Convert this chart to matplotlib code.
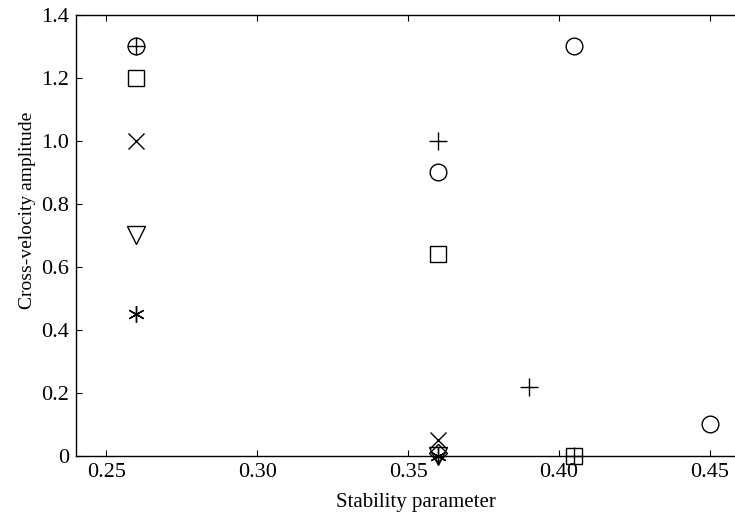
import numpy as np
from matplotlib import pyplot as plt

plt.rcParams['font.family'] = ['Liberation Serif', 'DejaVu Serif']

# Data, one list per marker style.
circle_x = [0.26, 0.36, 0.405, 0.45]
circle_y = [1.3, 0.9, 1.3, 0.1]
plus_x = [0.26, 0.36, 0.39, 0.405]
plus_y = [1.3, 1.0, 0.22, 0.0]
square_x = [0.26, 0.36, 0.405]
square_y = [1.2, 0.64, 0.0]
cross_x = [0.26, 0.36]
cross_y = [1.0, 0.05]
tri_x = [0.26, 0.36]
tri_y = [0.7, 0.0]
star_x = [0.26, 0.36]
star_y = [0.45, 0.0]
diam_x = [0.36]
diam_y = [0.01]

xticks = [0.25, 0.30, 0.35, 0.40, 0.45]
xtick_labels = ['0.25', '0.30', '0.35', '0.40', '0.45']
yticks = [0, 0.2, 0.4, 0.6, 0.8, 1.0, 1.2, 1.4]
ytick_labels = ['0', '0.2', '0.4', '0.6', '0.8', '1.0', '1.2', '1.4']

fig = plt.figure(figsize=(7.35, 5.16), dpi=100)
ax = fig.add_axes([0.1034, 0.1163, 0.8966, 0.8547])

kw = dict(linestyle='none', color='black', markerfacecolor='none',
          markeredgecolor='black', markeredgewidth=1.0, clip_on=False)
ax.plot(circle_x, circle_y, marker='o', markersize=12, **kw)
ax.plot(square_x, square_y, marker='s', markersize=11, **kw)
ax.plot(plus_x, plus_y, marker='+', markersize=13, **kw)
ax.plot(cross_x, cross_y, marker='x', markersize=11, **kw)
ax.plot(tri_x, tri_y, marker='v', markersize=13, **kw)
ax.plot(star_x, star_y, marker=(6, 2, 0), markersize=12, **kw)
ax.plot(diam_x, diam_y, marker='D', markersize=9, **kw)

ax.set_xlim(0.24, 0.4583)
ax.set_ylim(0, 1.4)
ax.set_xticks(xticks)
ax.set_xticklabels(xtick_labels)
ax.set_yticks(yticks)
ax.set_yticklabels(ytick_labels)
ax.tick_params(direction='in', length=4, width=0.8, labelsize=16,
               top=True, right=False, pad=5)
ax.spines['right'].set_visible(False)
for s in ['left', 'bottom', 'top']:
    ax.spines[s].set_linewidth(1.0)

ax.set_xlabel('Stability parameter', fontsize=15)
ax.set_ylabel('Cross-velocity amplitude', fontsize=14)
ax.xaxis.set_label_coords(0.516, -0.084)
ax.yaxis.set_label_coords(-0.06, 0.556)

fig.savefig('out.png', dpi=100)
